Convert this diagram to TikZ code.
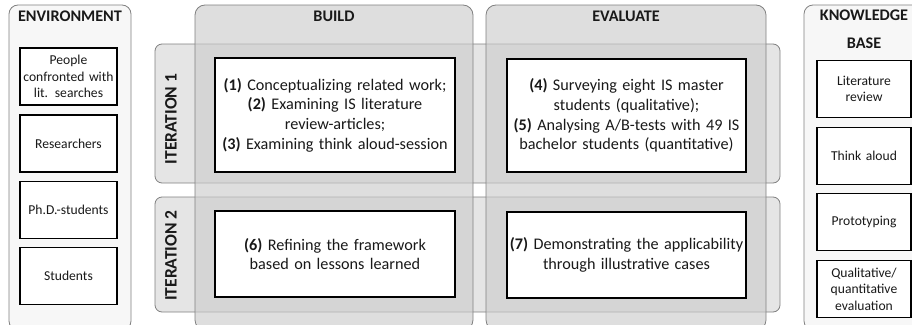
\documentclass[tikz,border=0pt]{standalone}
\usepackage{fontspec}
\setmainfont{Carlito}
\begin{document}
\begin{tikzpicture}[x=1pt,y=-1pt,
  outerpanel/.style={draw=black!50, line width=0.8pt, rounded corners=9pt, fill=black!3},
  phasepanel/.style={draw=black!50, line width=0.8pt, rounded corners=10pt, fill=black!20, fill opacity=0.64},
  band/.style={draw=black!50, line width=0.8pt, rounded corners=7pt, fill=black!10},
  item/.style={draw=black, line width=1.1pt, fill=white, inner sep=2pt, align=center, text=black!90},
  sideitem/.style={item, font=\fontsize{13.6}{16.6}\selectfont, minimum width=97pt, minimum height=57pt, text width=93pt},
  mainitem/.style={item, font=\fontsize{16.2}{19.7}\selectfont, text width=234pt, minimum width=240pt},
  title/.style={font=\fontsize{16.2}{21}\selectfont\bfseries, align=center, text=black!90},
  itlabel/.style={font=\fontsize{17.5}{21}\selectfont\bfseries, rotate=90, text=black!90}
]
\useasboundingbox (0,0) rectangle (912,324);
\clip (0,0) rectangle (912,324);

% environment column
\path[outerpanel] (9,5) rectangle (131,330);
\node[title] (envtitle) at (70,16) {ENVIRONMENT};
\node[sideitem] (env1) at (68.5,76.5) {People\\confronted with\\lit. searches};
\node[sideitem] (env2) at (68.5,143.5) {Researchers};
\node[sideitem] (env3) at (68.5,210) {Ph.D.-students};
\node[sideitem] (env4) at (68.5,276) {Students};

% iteration bands
\path[band] (155,44) rectangle (780,183);
\path[band] (155,197) rectangle (780,312);
\node[itlabel] (it1) at (171,119) {ITERATION 1};
\node[itlabel] (it2) at (171,255.5) {ITERATION 2};

% build and evaluate phases
\path[phasepanel] (195,5) rectangle (473,330);
\path[phasepanel] (486,5) rectangle (766,330);
\node[title] (buildtitle) at (334,16) {BUILD};
\node[title] (evaltitle) at (626,16) {EVALUATE};

\node[mainitem, minimum height=114pt] (b1) at (335,115)
  {\textbf{(1)} Conceptualizing related work;\\\textbf{(2)} Examining IS literature\\review-articles;\\\textbf{(3)} Examining think aloud-session};
\node[mainitem, minimum height=86pt] (b2) at (335,254)
  {\textbf{(6)} Refining the framework\\based on lessons learned};
\node[mainitem, minimum width=239pt, minimum height=113pt] (e1) at (626.5,115.5)
  {\textbf{(4)} Surveying eight IS master\\students (qualitative);\\\textbf{(5)} Analysing A/B-tests with 49 IS\\bachelor students (quantitative)};
\node[mainitem, minimum width=239pt, minimum height=86pt] (e2) at (626.5,255)
  {\textbf{(7)} Demonstrating the applicability\\through illustrative cases};

% knowledge base column
\path[outerpanel] (804,5) rectangle (925,330);
\node[title, font=\fontsize{16.2}{28}\selectfont\bfseries] (kbtitle) at (864,29) {KNOWLEDGE\\BASE};
\node[sideitem, minimum width=94pt, text width=90pt] (kb1) at (864,89) {Literature\\review};
\node[sideitem, minimum width=94pt, text width=90pt] (kb2) at (864,156) {Think aloud};
\node[sideitem, minimum width=94pt, text width=90pt] (kb3) at (864,222) {Prototyping};
\node[sideitem, minimum width=94pt, text width=90pt] (kb4) at (864,289) {Qualitative/\\quantitative\\evaluation};
\end{tikzpicture}
\end{document}
